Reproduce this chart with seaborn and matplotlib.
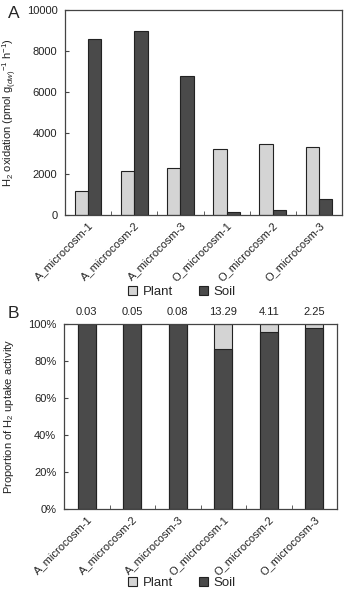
import matplotlib
matplotlib.use("Agg")
import matplotlib.pyplot as plt
import seaborn as sns
import pandas as pd
import numpy as np
from matplotlib.patches import Patch

sns.set_style("white")
plt.rcParams['font.family'] = ['Liberation Sans', 'DejaVu Sans']
plt.rcParams['mathtext.fontset'] = 'custom'
plt.rcParams['mathtext.rm'] = 'Liberation Sans'
plt.rcParams['mathtext.it'] = 'Liberation Sans:italic'

categories = ["A_microcosm-1", "A_microcosm-2", "A_microcosm-3",
              "O_microcosm-1", "O_microcosm-2", "O_microcosm-3"]
plant_oxidation = [1150, 2150, 2300, 3240, 3470, 3300]
soil_oxidation = [8600, 9000, 6800, 150, 220, 780]
plant_percent = [0.03, 0.05, 0.08, 13.29, 4.11, 2.25]
soil_percent = [100 - p for p in plant_percent]
annot_labels = ["0.03", "0.05", "0.08", "13.29", "4.11", "2.25"]

plant_color = "#d4d4d4"
soil_color = "#4a4a4a"
edge = "#222222"
fs = 8

fig = plt.figure(figsize=(3.45, 5.89), dpi=100)
W, H = 345, 589
axA = fig.add_axes([65 / W, 1 - 215 / H, 277 / W, 205 / H])
axB = fig.add_axes([64 / W, 1 - 509 / H, 273 / W, 185 / H])

# Panel A
dfA = pd.DataFrame({
    "cat": categories * 2,
    "val": plant_oxidation + soil_oxidation,
    "src": ["Plant"] * 6 + ["Soil"] * 6,
})
sns.barplot(data=dfA, x="cat", y="val", hue="src", order=categories,
            hue_order=["Plant", "Soil"], palette=[plant_color, soil_color],
            width=0.58, edgecolor=edge, linewidth=0.8, ax=axA, legend=False,
            errorbar=None, dodge=True, gap=0)
axA.set_ylim(0, 10000)
axA.set_yticks([0, 2000, 4000, 6000, 8000, 10000])
axA.set_ylabel("H$_2$ oxidation (pmol g$_{(dw)}$$^{-1}$ h$^{-1}$)", fontsize=fs)
axA.set_xlabel("")

# Panel B (stacked)
dfB = pd.DataFrame({"cat": categories, "plant": plant_percent, "soil": soil_percent})
dfB["total"] = dfB["plant"] + dfB["soil"]
sns.barplot(data=dfB, x="cat", y="total", order=categories, color=plant_color,
            width=0.4, edgecolor=edge, linewidth=0.8, ax=axB, errorbar=None)
sns.barplot(data=dfB, x="cat", y="soil", order=categories, color=soil_color,
            width=0.4, edgecolor=edge, linewidth=0.8, ax=axB, errorbar=None)
axB.set_ylim(0, 100)
axB.set_yticks([0, 20, 40, 60, 80, 100])
axB.set_yticklabels([f"{v}%" for v in [0, 20, 40, 60, 80, 100]])
axB.set_ylabel("Proportion of H$_2$ uptake activity", fontsize=fs)
axB.set_xlabel("")
for i, t in enumerate(annot_labels):
    axB.text(i, 104, t, ha="center", va="bottom", fontsize=fs, color="#222222")

for ax in (axA, axB):
    ax.set_xlim(-0.5, 5.5)
    for s in ax.spines.values():
        s.set_visible(True)
        s.set_color("#444444")
        s.set_linewidth(0.9)
    ax.set_xticks(range(6))
    ax.set_xticklabels(categories, rotation=45, ha="right", rotation_mode="anchor",
                       fontsize=fs, color="#222222")
    ax.tick_params(axis="x", length=0, pad=4)
    ax.set_xticks(np.arange(0.5, 5.5, 1), minor=True)
    ax.tick_params(axis="x", which="minor", direction="in", length=3, color="#444444",
                   bottom=True)
    ax.tick_params(axis="y", direction="in", length=3, labelsize=fs, color="#444444",
                   labelcolor="#222222", left=True, pad=5.5)
    ax.yaxis.label.set_color("#222222")

axA.yaxis.set_label_coords(-0.165, 0.5)
axB.yaxis.set_label_coords(-0.175, 0.5)

handles = [Patch(facecolor=plant_color, edgecolor=edge, linewidth=0.8, label="Plant"),
           Patch(facecolor=soil_color, edgecolor=edge, linewidth=0.8, label="Soil")]
for yc in (292, 583):
    fig.legend(handles=handles, loc="center", bbox_to_anchor=(182 / W, 1 - yc / H),
               ncol=2, frameon=False, fontsize=9.5, handlelength=0.7,
               handleheight=0.7, columnspacing=2.0, handletextpad=0.4,
               borderpad=0.1)

fig.text(8 / W, 1 - 13 / H, "A", fontsize=12.5, ha="left", va="center")
fig.text(8 / W, 1 - 314 / H, "B", fontsize=12.5, ha="left", va="center")

fig.savefig("out.png", dpi=100, facecolor="white")
